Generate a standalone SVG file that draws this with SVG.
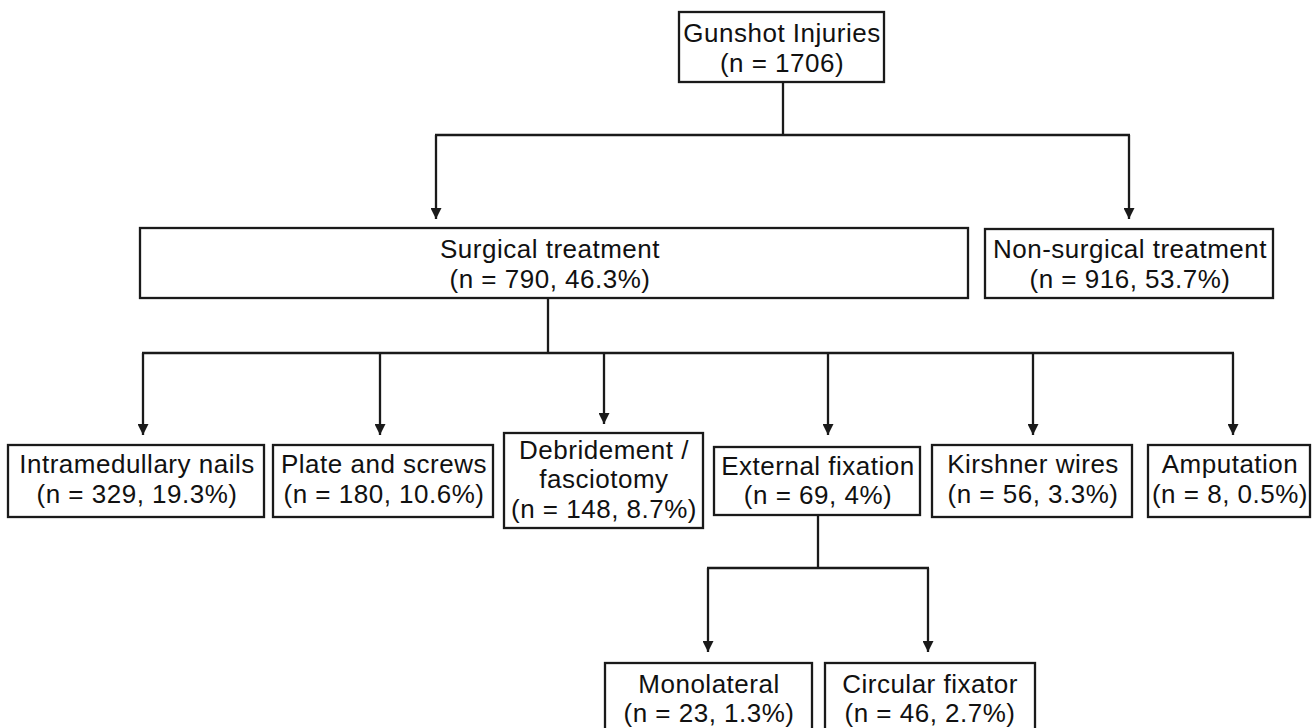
<svg xmlns="http://www.w3.org/2000/svg" width="1315" height="728" viewBox="0 0 1315 728">
<style>
.box{fill:#fff;stroke:#1a1a1a;stroke-width:2.3}
.t{font-family:"Liberation Sans",Arial,sans-serif;font-size:26px;letter-spacing:0.5px;fill:#111;text-anchor:middle}
.c{fill:none;stroke:#1a1a1a;stroke-width:2.3}
</style>
<defs>
<marker id="ah" viewBox="0 0 10 10" refX="10" refY="5" markerWidth="11" markerHeight="11" markerUnits="userSpaceOnUse" orient="auto">
<path d="M0,0 L10,5 L0,10 Z" fill="#1a1a1a"/>
</marker>
</defs>
<rect width="1315" height="728" fill="#fff"/>
<g id="connectors">
<path class="c" d="M783,82 V135 M435,135 H1130"/>
<path class="c" d="M436,135 V219" marker-end="url(#ah)"/>
<path class="c" d="M1129,135 V219" marker-end="url(#ah)"/>
<path class="c" d="M548,298 V353 M142,353 H1234"/>
<path class="c" d="M143,353 V435" marker-end="url(#ah)"/>
<path class="c" d="M380,353 V435" marker-end="url(#ah)"/>
<path class="c" d="M604,353 V424" marker-end="url(#ah)"/>
<path class="c" d="M828,353 V435" marker-end="url(#ah)"/>
<path class="c" d="M1033,353 V435" marker-end="url(#ah)"/>
<path class="c" d="M1233,353 V435" marker-end="url(#ah)"/>
<path class="c" d="M818,515 V568 M707,568 H929"/>
<path class="c" d="M708,568 V652" marker-end="url(#ah)"/>
<path class="c" d="M928,568 V652" marker-end="url(#ah)"/>
</g>
<g id="gunshot">
<rect class="box" x="679" y="12" width="205" height="70"/>
<text class="t" x="782" y="42">Gunshot Injuries</text>
<text class="t" x="782" y="72">(n = 1706)</text>
</g>
<g id="surgical">
<rect class="box" x="140" y="228" width="828" height="70"/>
<text class="t" x="550" y="258">Surgical treatment</text>
<text class="t" x="550" y="288">(n = 790, 46.3%)</text>
</g>
<g id="nonsurgical">
<rect class="box" x="985" y="229" width="288" height="69"/>
<text class="t" x="1130" y="258">Non-surgical treatment</text>
<text class="t" x="1130" y="288">(n = 916, 53.7%)</text>
</g>
<g id="intramedullary">
<rect class="box" x="8" y="445" width="256" height="72"/>
<text class="t" x="137" y="473">Intramedullary nails</text>
<text class="t" x="137" y="503">(n = 329, 19.3%)</text>
</g>
<g id="plate">
<rect class="box" x="273" y="445" width="220" height="72"/>
<text class="t" x="384" y="473">Plate and screws</text>
<text class="t" x="384" y="503">(n = 180, 10.6%)</text>
</g>
<g id="debridement">
<rect class="box" x="504" y="433" width="199" height="95"/>
<text class="t" x="604" y="459">Debridement /</text>
<text class="t" x="604" y="488">fasciotomy</text>
<text class="t" x="604" y="518">(n = 148, 8.7%)</text>
</g>
<g id="external">
<rect class="box" x="714" y="447" width="206" height="68"/>
<text class="t" x="818" y="475">External fixation</text>
<text class="t" x="818" y="504">(n = 69, 4%)</text>
</g>
<g id="kirshner">
<rect class="box" x="932" y="445" width="200" height="72"/>
<text class="t" x="1033" y="473">Kirshner wires</text>
<text class="t" x="1033" y="503">(n = 56, 3.3%)</text>
</g>
<g id="amputation">
<rect class="box" x="1148" y="445" width="162" height="72"/>
<text class="t" x="1230" y="473">Amputation</text>
<text class="t" x="1230" y="503">(n = 8, 0.5%)</text>
</g>
<g id="monolateral">
<rect class="box" x="605" y="663" width="207" height="80"/>
<text class="t" x="709" y="693">Monolateral</text>
<text class="t" x="709" y="722">(n = 23, 1.3%)</text>
</g>
<g id="circular">
<rect class="box" x="825" y="663" width="210" height="80"/>
<text class="t" x="930" y="693">Circular fixator</text>
<text class="t" x="930" y="722">(n = 46, 2.7%)</text>
</g>
</svg>
